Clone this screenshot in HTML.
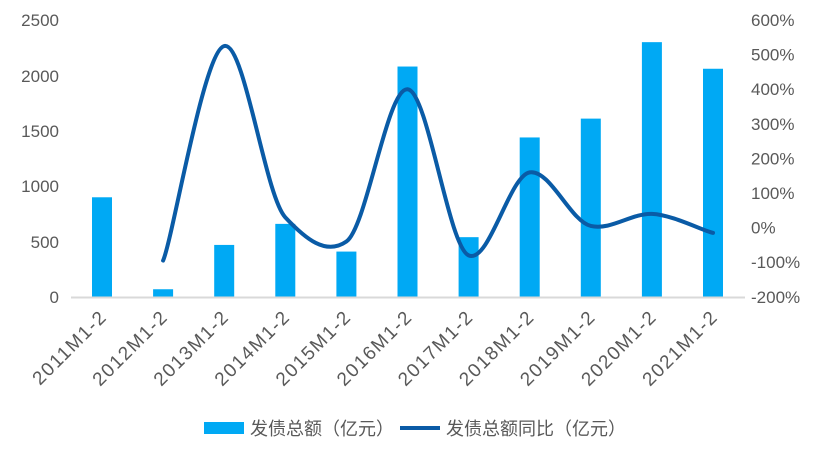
<!DOCTYPE html>
<html><head><meta charset="utf-8"><style>
html,body{margin:0;padding:0;background:#fff;}
text{font-family:"Liberation Sans","Noto Sans CJK SC",sans-serif;fill:#595959;font-size:17px;}
</style></head><body>
<svg id="s" width="830" height="462" xmlns="http://www.w3.org/2000/svg">
<g id="bars" fill="#00a9f4"></g>
<line x1="71" y1="297.5" x2="745" y2="297.5" stroke="#d9d9d9" stroke-width="2"/>
<path id="ln" fill="none" stroke="#0a5ba6" stroke-width="4" stroke-linecap="round"/>
<g text-anchor="end">
<text x="59" y="303">0</text><text x="59" y="248">500</text><text x="59" y="192">1000</text>
<text x="59" y="137">1500</text><text x="59" y="82">2000</text><text x="59" y="26">2500</text>
</g>
<g text-anchor="start" id="rt"></g>
<g id="xl" text-anchor="end"></g>
<rect x="204" y="422" width="40" height="12" fill="#00a9f4"/>
<text x="250" y="435" style="font-size:18px">发债总额（亿元）</text>
<line x1="400" y1="428" x2="440" y2="428" stroke="#0a5ba6" stroke-width="4"/>
<text x="446" y="435" style="font-size:18px">发债总额同比（亿元）</text>
</svg>
<script>
var ns="http://www.w3.org/2000/svg";
function el(t,a,p,txt){var e=document.createElementNS(ns,t);for(var k in a)e.setAttribute(k,a[k]);if(txt)e.textContent=txt;document.querySelector(p).appendChild(e);}
var vals=[900,70,470,660,410,2080,540,1440,1610,2300,2060];
var pct=[null,-95,525,30,-40,400,-80,160,5,40,-15];
for(var i=0;i<11;i++){var cx=102+i*61.1;var h=vals[i]*0.1108;
el("rect",{x:cx-10,y:297-h,width:20,height:h},"#bars");
el("text",{x:cx+6,y:318,style:"font-size:19px;letter-spacing:1.5px",transform:"rotate(-45 "+(cx+6)+" 318)"},"#xl",(2011+i)+"M1-2");}
var r=["600%","500%","400%","300%","200%","100%","0%","-100%","-200%"];
for(var j=0;j<9;j++)el("text",{x:751,y:26+j*34.6},"#rt",r[j]);
var P=[];for(var i=1;i<11;i++)P.push([102+i*61.1,227.7-pct[i]*0.346]);
var d="M"+P[0][0]+","+P[0][1];var f=9;
for(var i=0;i<P.length-1;i++){var p0=P[i-1]||P[i],p1=P[i],p2=P[i+1],p3=P[i+2]||p2;
d+=" C"+(p1[0]+(p2[0]-p0[0])/6)+","+(p1[1]+(p2[1]-p0[1])/f)+" "+(p2[0]-(p3[0]-p1[0])/6)+","+(p2[1]-(p3[1]-p1[1])/f)+" "+p2[0]+","+p2[1];}
document.getElementById("ln").setAttribute("d",d);
</script>
</body></html>
